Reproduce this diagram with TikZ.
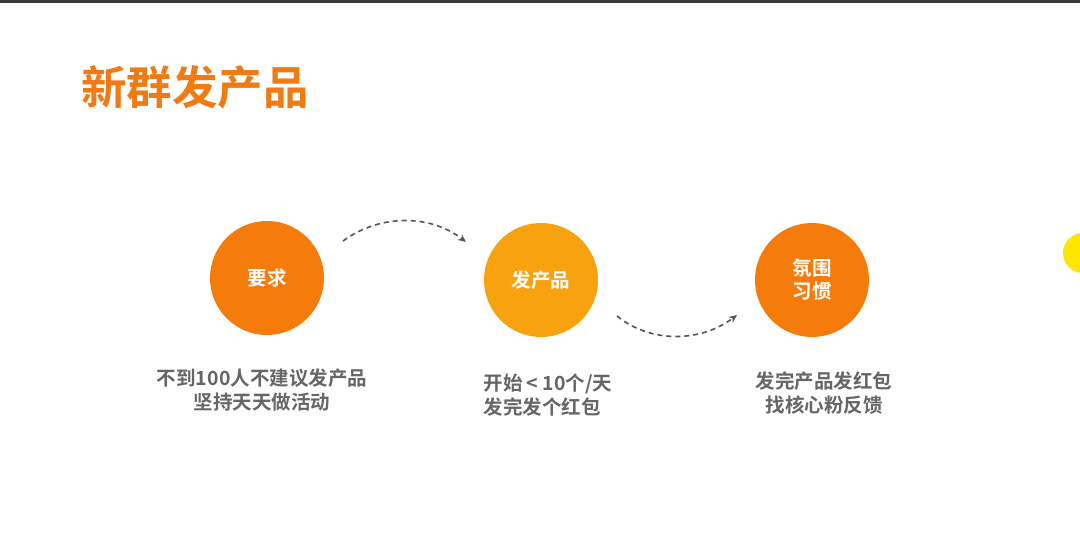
\documentclass[tikz,border=0pt]{standalone}
\usepackage{fontspec}
\newfontfamily\cjk{Noto Sans CJK SC}[BoldFont={Noto Sans CJK SC Bold}]
\usetikzlibrary{arrows.meta,positioning}
\definecolor{gOrange}{HTML}{F57C0A}
\definecolor{gAmber}{HTML}{F9A20F}
\definecolor{gTitle}{HTML}{F07B14}
\definecolor{gText}{HTML}{666666}
\definecolor{gArrow}{HTML}{555555}
\definecolor{gYellow}{HTML}{FFE600}
\definecolor{gBar}{HTML}{3A3A3A}

\tikzset{
  stage/.style={circle,minimum size=114pt,inner sep=0pt,text=white,
    font=\cjk\bfseries\fontsize{19.5}{23}\selectfont,align=center},
  note/.style={text=gText,font=\cjk\bfseries\fontsize{19.5}{24}\selectfont},
  flow/.style={gArrow,line width=1.6pt,dash pattern=on 5pt off 4pt,
    -{Stealth[length=8pt,width=7pt]}}
}

\begin{document}
\begin{tikzpicture}[x=1pt,y=-1pt]
  \useasboundingbox (0,0) rectangle (1080,554);
  \clip (0,0) rectangle (1080,554);
  \fill[white] (0,0) rectangle (1080,554);
  \fill[gBar] (0,0) rectangle (1080,2.5);
  % ---- Title ----
  \node[anchor=west,text=gTitle,font=\cjk\bfseries\fontsize{45.5}{50}\selectfont,inner sep=0pt]
    (title) at (81,87) {新群发产品};
  % ---- Stages ----
  \node[stage,fill=gOrange] (req) at (267,278) {要求};
  \node[stage,fill=gAmber] (pub) at (541,280) {发产品};
  \node[stage,fill=gOrange] (habit) at (812,280) {氛围\\习惯};
  \fill[gYellow] (1083,253) circle (20);
  % ---- Notes ----
  \node[note,align=center] (reqnote) at (262,390) {不到100人不建议发产品\\坚持天天做活动};
  \node[note,align=left,anchor=west] (pubnote) at (480,395) {开始 < 10个/天\\发完发个红包};
  \node[note,align=center] (habitnote) at (824,393) {发完产品发红包\\找核心粉反馈};
  % ---- Arrows ----
  \coordinate (a1) at (343,241);
  \coordinate (b1) at (466,242);
  \coordinate (a2) at (617,316);
  \coordinate (b2) at (737,315);
  \draw[flow] (a1) .. controls (380,214) and (430,214) .. (b1);
  \draw[flow] (a2) .. controls (650,343) and (700,343) .. (b2);
\end{tikzpicture}
\end{document}
